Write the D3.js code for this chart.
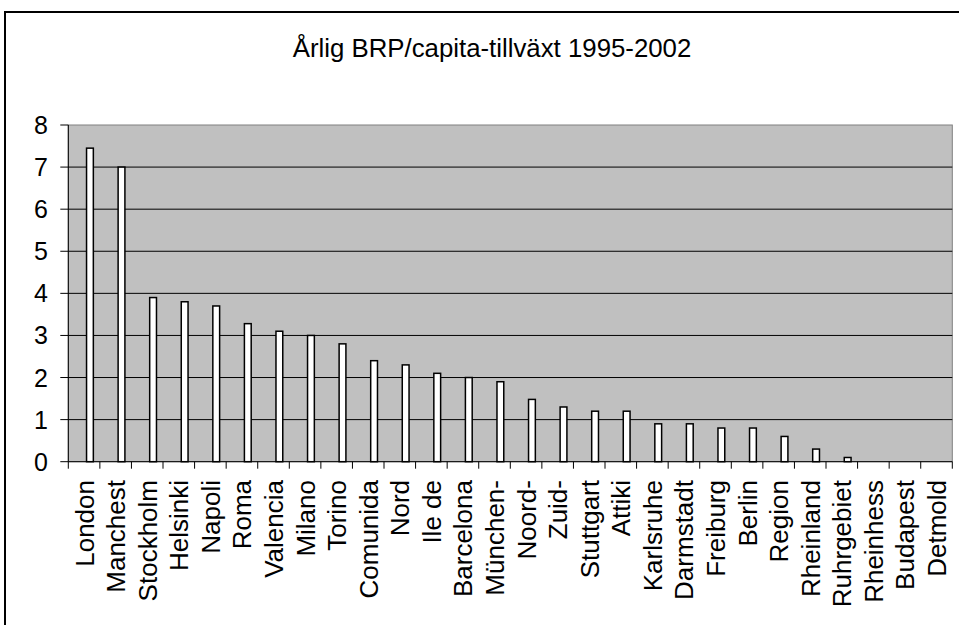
<!DOCTYPE html>
<html>
<head>
<meta charset="utf-8">
<script src="https://cdn.jsdelivr.net/npm/d3@7"></script>
<style>
  body { margin: 0; background: #fff; }
  text { font-family: "Liberation Sans", Arial, sans-serif; fill: #000; }
</style>
</head>
<body>
<svg></svg>
<script>
//Setting
const width = 959;
const height = 625;

//Data
const regions = ["London", "Manchest", "Stockholm", "Helsinki", "Napoli", "Roma", "Valencia",
  "Milano", "Torino", "Comunida", "Nord", "Ile de", "Barcelona", "München-", "Noord-", "Zuid-",
  "Stuttgart", "Attiki", "Karlsruhe", "Darmstadt", "Freiburg", "Berlin", "Region", "Rheinland",
  "Ruhrgebiet", "Rheinhess", "Budapest", "Detmold"];
const growth = [7.45, 7.0, 3.9, 3.8, 3.7, 3.28, 3.1, 3.0, 2.8, 2.4, 2.3, 2.1, 2.0, 1.9, 1.48, 1.3,
  1.2, 1.2, 0.9, 0.9, 0.8, 0.8, 0.6, 0.3, 0.1, 0, 0, 0];
const yTicks = [0, 1, 2, 3, 4, 5, 6, 7, 8];
const title = "Årlig BRP/capita-tillväxt 1995-2002";

const plot = {left: 68.3, right: 952.3, top: 125, bottom: 461.7};

const svg = d3.select("svg")
  .attr("width", width)
  .attr("height", height);

// chart frame (right and bottom edges fall outside the picture)
svg.append("rect")
  .attr("x", 5).attr("y", 12)
  .attr("width", 1000).attr("height", 700)
  .attr("fill", "#fff")
  .attr("stroke", "#000")
  .attr("stroke-width", 2);

const x = d3.scaleBand()
  .domain(regions)
  .range([plot.left, plot.right])
  .padding(0);

const y = d3.scaleLinear()
  .domain([0, 8])
  .range([plot.bottom, plot.top]);

// plot area
svg.append("rect")
  .attr("x", plot.left).attr("y", plot.top)
  .attr("width", plot.right - plot.left)
  .attr("height", plot.bottom - plot.top)
  .attr("fill", "#c0c0c0")
  .attr("stroke", "#808080")
  .attr("stroke-width", 1);

// gridlines
svg.append("g")
  .selectAll("line")
  .data(yTicks.filter(d => d > 0 && d < 8))
  .enter()
  .append("line")
  .attr("x1", plot.left).attr("x2", plot.right)
  .attr("y1", d => y(d)).attr("y2", d => y(d))
  .attr("stroke", "#000")
  .attr("stroke-width", 1);

// bars
const bw = x.bandwidth();
svg.append("g")
  .selectAll("rect")
  .data(growth.map((v, i) => ({name: regions[i], value: v})).filter(d => d.value > 0))
  .enter()
  .append("rect")
  .attr("x", d => x(d.name) + bw * 0.578)
  .attr("width", bw * 0.215)
  .attr("y", d => y(d.value))
  .attr("height", d => y(0) - y(d.value))
  .attr("fill", "#fff")
  .attr("stroke", "#000")
  .attr("stroke-width", 1.5);

// y axis
svg.append("line")
  .attr("x1", plot.left).attr("x2", plot.left)
  .attr("y1", plot.top).attr("y2", plot.bottom)
  .attr("stroke", "#000");

const yAxis = svg.append("g");
yAxis.selectAll("line")
  .data(yTicks)
  .enter()
  .append("line")
  .attr("x1", plot.left - 8).attr("x2", plot.left)
  .attr("y1", d => y(d)).attr("y2", d => y(d))
  .attr("stroke", "#000");

yAxis.selectAll("text")
  .data(yTicks)
  .enter()
  .append("text")
  .attr("x", 48)
  .attr("y", d => y(d))
  .attr("text-anchor", "end")
  .attr("dy", "0.36em")
  .style("font-size", "25px")
  .text(d => d);

// x axis
svg.append("line")
  .attr("x1", plot.left).attr("x2", plot.right)
  .attr("y1", plot.bottom).attr("y2", plot.bottom)
  .attr("stroke", "#000");

svg.append("g")
  .selectAll("line")
  .data(regions.map(r => x(r)).concat([plot.right]))
  .enter()
  .append("line")
  .attr("x1", d => d).attr("x2", d => d)
  .attr("y1", plot.bottom).attr("y2", plot.bottom + 7)
  .attr("stroke", "#000");

svg.append("g")
  .selectAll("text")
  .data(regions)
  .enter()
  .append("text")
  .attr("transform", d => `translate(${x(d) + bw / 2 + 9.5}, 480) rotate(-90)`)
  .attr("text-anchor", "end")
  .style("font-size", "26px")
  .text(d => d);

// title
svg.append("text")
  .attr("x", 492)
  .attr("y", 57)
  .attr("text-anchor", "middle")
  .style("font-size", "25.8px")
  .text(title);
</script>
</body>
</html>
